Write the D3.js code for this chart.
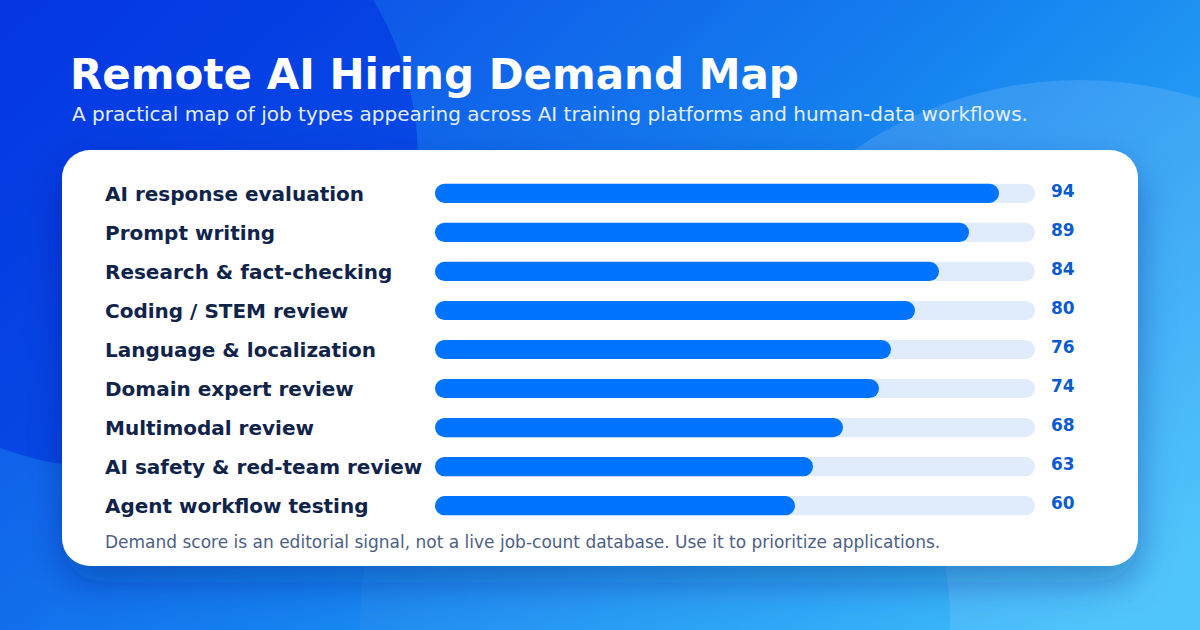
<!DOCTYPE html>
<html>
<head>
<meta charset="utf-8">
<script src="https://cdn.jsdelivr.net/npm/d3@7"></script>
<style>
  html, body { margin: 0; padding: 0; background: #0b4fe4; }
  svg { display: block; font-family: "DejaVu Sans", sans-serif; }
</style>
</head>
<body>
<div id="chart"></div>
<script>
// job categories and their demand scores (0-100)
const categories = [
    "AI response evaluation",
    "Prompt writing",
    "Research & fact-checking",
    "Coding / STEM review",
    "Language & localization",
    "Domain expert review",
    "Multimodal review",
    "AI safety & red-team review",
    "Agent workflow testing"
];
const scores = [94, 89, 84, 80, 76, 74, 68, 63, 60];
const scoreMax = 100;

const title = "Remote AI Hiring Demand Map";
const subtitle = "A practical map of job types appearing across AI training platforms and human-data workflows.";
const footnote = "Demand score is an editorial signal, not a live job-count database. Use it to prioritize applications.";

const W = 1200, H = 630;
const card = {x: 62, y: 150, w: 1076, h: 416, r: 28};

const svg = d3.select("#chart").append("svg")
    .attr("width", W)
    .attr("height", H);

const defs = svg.append("defs");

// same gradient in user space, so the bottom circle can mask the lighter one
let bg = defs.append("linearGradient")
    .attr("id", "bg")
    .attr("gradientUnits", "userSpaceOnUse")
    .attr("x1", 0).attr("y1", 0)
    .attr("x2", 800).attr("y2", 900);
bg.append("stop").attr("offset", "0%").attr("stop-color", "#0a3fe4");
bg.append("stop").attr("offset", "55%").attr("stop-color", "#1582ef");
bg.append("stop").attr("offset", "100%").attr("stop-color", "#38bdfb");

let shadow = defs.append("filter")
    .attr("id", "shadow")
    .attr("x", "-10%").attr("y", "-10%")
    .attr("width", "120%").attr("height", "130%");
shadow.append("feDropShadow")
    .attr("dx", 0).attr("dy", 16)
    .attr("stdDeviation", 18)
    .attr("flood-color", "#06246e")
    .attr("flood-opacity", 0.35);

// background + soft circles
svg.append("rect")
    .attr("width", W).attr("height", H)
    .attr("fill", "url(#bg)");

svg.append("circle")
    .attr("cx", 110).attr("cy", 160).attr("r", 308)
    .attr("fill", "#0030e0")
    .attr("opacity", 0.55);

svg.append("circle")
    .attr("cx", 1080).attr("cy", 480).attr("r", 400)
    .attr("fill", "#ffffff")
    .attr("opacity", 0.12);

svg.append("circle")
    .attr("cx", 655).attr("cy", 620).attr("r", 295)
    .attr("fill", "url(#bg)");
svg.append("circle")
    .attr("cx", 655).attr("cy", 620).attr("r", 295)
    .attr("fill", "#ffffff")
    .attr("opacity", 0.03);

// heading
svg.append("text")
    .attr("x", 70).attr("y", 89)
    .attr("fill", "#ffffff")
    .attr("font-size", 42)
    .attr("font-weight", "bold")
    .text(title);

svg.append("text")
    .attr("x", 72).attr("y", 121)
    .attr("fill", "#e3eeff")
    .attr("font-size", 20)
    .text(subtitle);

// card
svg.append("rect")
    .attr("x", card.x).attr("y", card.y)
    .attr("width", card.w).attr("height", card.h)
    .attr("rx", card.r).attr("ry", card.r)
    .attr("fill", "#ffffff")
    .attr("filter", "url(#shadow)");

const x = d3.scaleLinear()
    .domain([0, scoreMax])
    .range([435, 1035]);

const y = d3.scaleBand()
    .domain(categories)
    .range([174, 525])
    .paddingInner(0.51)
    .paddingOuter(0.25);

const data = categories.map((c, i) => ({name: c, score: scores[i]}));

let rows = svg.selectAll("g.row")
    .data(data)
    .enter()
    .append("g")
    .attr("class", "row");

rows.append("text")
    .attr("x", 105)
    .attr("y", d => y(d.name) + y.bandwidth() / 2)
    .attr("dy", "0.36em")
    .attr("fill", "#10244a")
    .attr("font-size", 20)
    .attr("font-weight", "bold")
    .text(d => d.name);

rows.append("rect")
    .attr("x", x(0))
    .attr("y", d => y(d.name))
    .attr("width", x(scoreMax) - x(0))
    .attr("height", y.bandwidth())
    .attr("rx", y.bandwidth() / 2)
    .attr("fill", "#e0ebfb");

rows.append("rect")
    .attr("x", x(0))
    .attr("y", d => y(d.name))
    .attr("width", d => x(d.score) - x(0))
    .attr("height", y.bandwidth())
    .attr("rx", y.bandwidth() / 2)
    .attr("fill", "#0073ff");

rows.append("text")
    .attr("x", 1051)
    .attr("y", d => y(d.name) + y.bandwidth() / 2 - 2.5)
    .attr("dy", "0.36em")
    .attr("fill", "#0b5bd0")
    .attr("font-size", 17)
    .attr("font-weight", "bold")
    .text(d => d.score);

svg.append("text")
    .attr("x", 105).attr("y", 548)
    .attr("fill", "#4d6084")
    .attr("font-size", 17)
    .text(footnote);
</script>
</body>
</html>
